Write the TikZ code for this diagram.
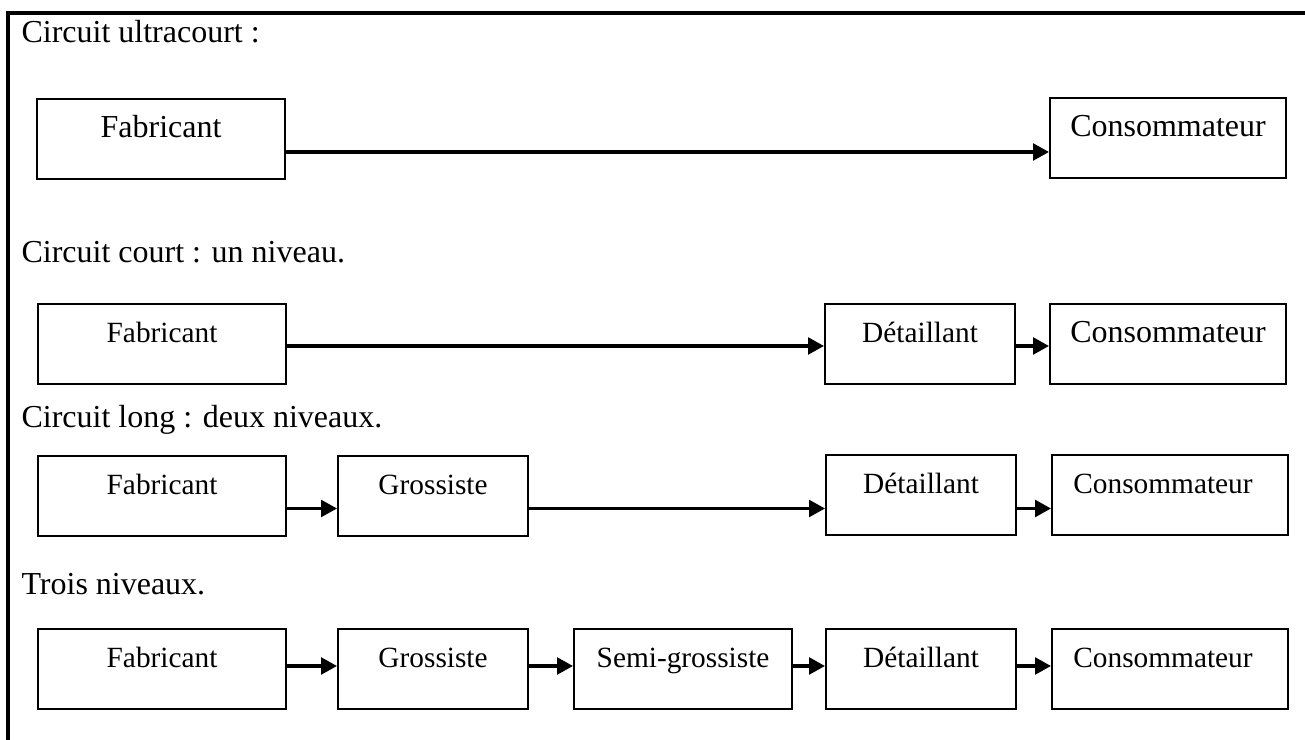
\documentclass[tikz,border=0pt]{standalone}
\usepackage{fontspec}
\setmainfont{Liberation Serif}
\usetikzlibrary{arrows.meta}
\begin{document}
\begin{tikzpicture}[x=0.375pt,y=-0.375pt,
  boxnode/.style={draw, line width=0.8pt, inner sep=0pt, anchor=north west,
    text height=14.25pt, text depth=15.75pt, font=\fontsize{11}{13}\selectfont},
  bigtext/.style={font=\fontsize{12}{14}\selectfont},
  fabw/.style={minimum width=93pt},
  midw/.style={minimum width=71.25pt},
  semiw/.style={minimum width=81.75pt},
  conw/.style={minimum width=88.5pt},
  conleft/.style={minimum width=88.5pt, inner xsep=8pt, text width=72.5pt, align=left},
  title/.style={anchor=base west, inner sep=0pt, font=\fontsize{12}{14}\selectfont},
  flow/.style={line width=1.2pt, -{Triangle[length=6pt,width=6.3pt]}},
  frame/.style={line width=1.15pt}]

\useasboundingbox (0,0) rectangle (1305,740);

% page frame (top and left rules)
\draw[frame] (8,740) -- (8,13) -- (1305,13);

% ---- ultra-short channel
\node[title] (t1) at (21,43) {Circuit ultracourt :};
\node[boxnode, bigtext, fabw] (f1) at (36,98) {Fabricant};
\node[boxnode, bigtext, conw] (c1) at (1049,97) {Consommateur};
\coordinate (a1) at (0,152);
\draw[flow] (f1.east |- a1) -- (c1.west |- a1);

% ---- short channel: one level
\node[title] (t2) at (21,263) {Circuit court : un niveau.};
\node[boxnode, fabw] (f2) at (37,303) {Fabricant};
\node[boxnode, midw] (d2) at (824,303) {Détaillant};
\node[boxnode, bigtext, conw] (c2) at (1049,303) {Consommateur};
\coordinate (a2) at (0,346);
\draw[flow] (f2.east |- a2) -- (d2.west |- a2);
\draw[flow] (d2.east |- a2) -- (c2.west |- a2);

% ---- long channel: two levels
\node[title] (t3) at (21,428) {Circuit long : deux niveaux.};
\node[boxnode, fabw] (f3) at (37,455) {Fabricant};
\node[boxnode, midw] (g3) at (337,455) {Grossiste};
\node[boxnode, midw] (d3) at (825,454) {Détaillant};
\node[boxnode, conleft] (c3) at (1051,454) {Consommateur};
\coordinate (a3) at (0,508.5);
\draw[flow] (f3.east |- a3) -- (g3.west |- a3);
\draw[flow] (g3.east |- a3) -- (d3.west |- a3);
\draw[flow] (d3.east |- a3) -- (c3.west |- a3);

% ---- three levels
\node[title] (t4) at (21,595) {Trois niveaux.};
\node[boxnode, fabw] (f4) at (37,628) {Fabricant};
\node[boxnode, midw] (g4) at (337,628) {Grossiste};
\node[boxnode, semiw] (s4) at (573,628) {Semi-grossiste};
\node[boxnode, midw] (d4) at (825,628) {Détaillant};
\node[boxnode, conleft] (c4) at (1051,628) {Consommateur};
\coordinate (a4) at (0,666);
\draw[flow] (f4.east |- a4) -- (g4.west |- a4);
\draw[flow] (g4.east |- a4) -- (s4.west |- a4);
\draw[flow] (s4.east |- a4) -- (d4.west |- a4);
\draw[flow] (d4.east |- a4) -- (c4.west |- a4);

\end{tikzpicture}
\end{document}
